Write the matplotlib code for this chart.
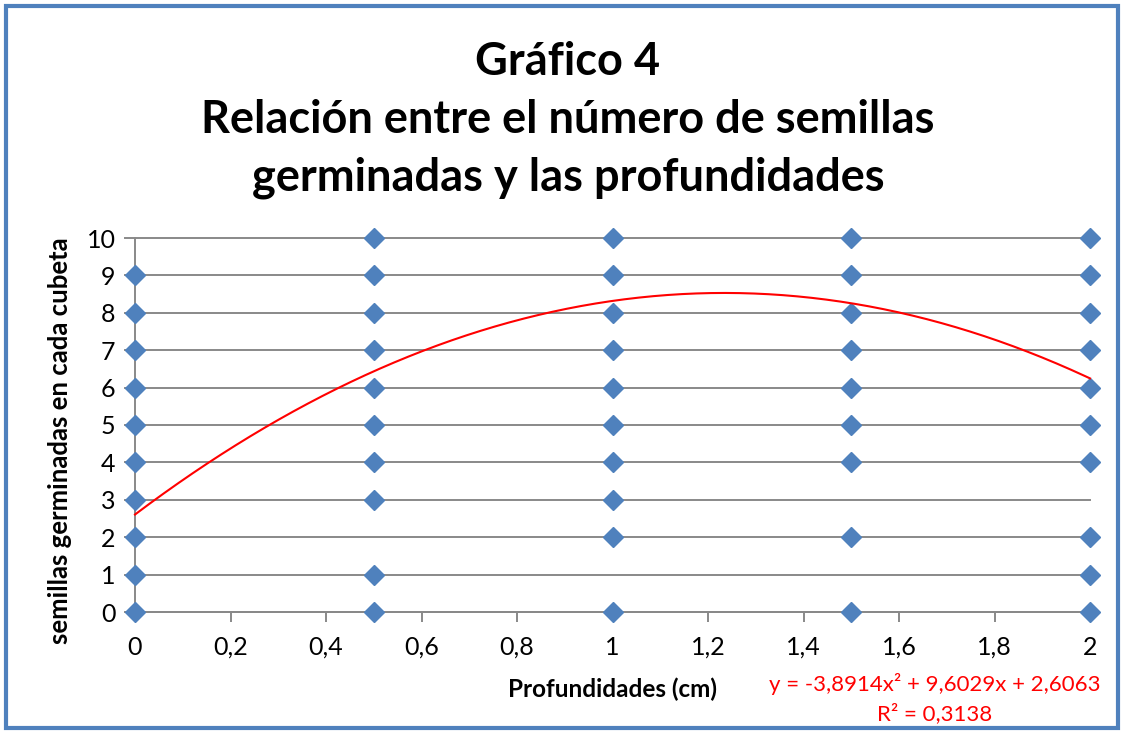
import numpy as np
import matplotlib
matplotlib.use("Agg")
from matplotlib import pyplot as plt
from matplotlib.patches import Rectangle

# profundidad (cm) -> semillas germinadas observadas
depths = [0, 0.5, 1, 1.5, 2]
seeds_0 = [0, 1, 2, 3, 4, 5, 6, 7, 8, 9]
seeds_05 = [0, 1, 3, 4, 5, 6, 7, 8, 9, 10]
seeds_1 = [0, 2, 3, 4, 5, 6, 7, 8, 9, 10]
seeds_15 = [0, 2, 4, 5, 6, 7, 8, 9, 10]
seeds_2 = [0, 1, 2, 4, 5, 6, 7, 8, 9, 10]
all_seeds = [seeds_0, seeds_05, seeds_1, seeds_15, seeds_2]

x_ticks = [0, 0.2, 0.4, 0.6, 0.8, 1, 1.2, 1.4, 1.6, 1.8, 2]

# polynomial trend (from chart label)
trend_coef = [-3.8914, 9.6029, 2.6063]
r2 = 0.3138

plt.rcParams['font.family'] = ['Lato', 'DejaVu Sans']

fig = plt.figure(figsize=(11.24, 7.34), dpi=100)
ax = fig.add_axes([135/1124, 1 - 612/734, (1090-135)/1124, (612-238)/734])

grid_c = '#898989'
for yv in range(0, 11):
    ax.plot([-0.02, 2], [yv, yv], color=grid_c, lw=1.4, zorder=1, clip_on=False)

xs = []
ys = []
for d, s in zip(depths, all_seeds):
    xs += [d] * len(s)
    ys += s
ax.plot(xs, ys, linestyle='none', marker='D', ms=10.5, color='#4F81BD',
        mec='#4F81BD', zorder=3, clip_on=False)

xt = np.linspace(0, 2, 200)
ax.plot(xt, np.polyval(trend_coef, xt), color='#FF0000', lw=1.5, zorder=4, clip_on=False)

ax.set_xlim(0, 2)
ax.set_ylim(0, 10)
for sp in ['top', 'right']:
    ax.spines[sp].set_visible(False)
ax.spines['left'].set_color(grid_c)
ax.spines['bottom'].set_color(grid_c)
ax.spines['left'].set_linewidth(1.4)
ax.spines['bottom'].set_linewidth(1.4)
ax.set_xticks(x_ticks)
ax.set_xticklabels([f'{t:g}'.replace('.', ',') for t in x_ticks])
ax.set_yticks(range(0, 11))
ax.tick_params(axis='both', colors=grid_c, labelcolor='black', labelsize=18, width=1.4, length=7)
ax.tick_params(axis='x', pad=10)
ax.tick_params(axis='y', length=0, pad=14)

ax.set_xlabel('Profundidades (cm)', fontsize=17.5, fontweight='bold')
ax.xaxis.set_label_coords((612-135)/(1090-135), -(678-612)/374)
ax.set_ylabel('semillas germinadas en cada cubeta', fontsize=18.5, fontweight='bold')
ax.yaxis.set_label_coords(-(135-72)/(1090-135), 0.457)

fig.text(568/1124, 1 - 62/734, 'Gráfico 4', ha='center', va='center',
         fontsize=32.5, fontweight='bold')
fig.text(568/1124, 1 - 120/734, 'Relación entre el número de semillas', ha='center',
         va='center', fontsize=32.5, fontweight='bold')
fig.text(568/1124, 1 - 178/734, 'germinadas y las profundidades', ha='center',
         va='center', fontsize=32.5, fontweight='bold')

eq = 'y = -3,8914x² + 9,6029x + 2,6063'
fig.text(935/1124, 1 - 684/734, eq, ha='center', va='center', fontsize=16, color='#FF0000')
fig.text(935/1124, 1 - 714/734, 'R² = ' + f'{r2:.4f}'.replace('.', ','), ha='center',
         va='center', fontsize=16, color='#FF0000')

fig.patches.append(Rectangle((6/1124, 6/734), 1 - 12/1124, 1 - 12/734,
                             transform=fig.transFigure, fill=False,
                             edgecolor='#4F81BD', lw=3))

fig.savefig('out.png', dpi=100)
